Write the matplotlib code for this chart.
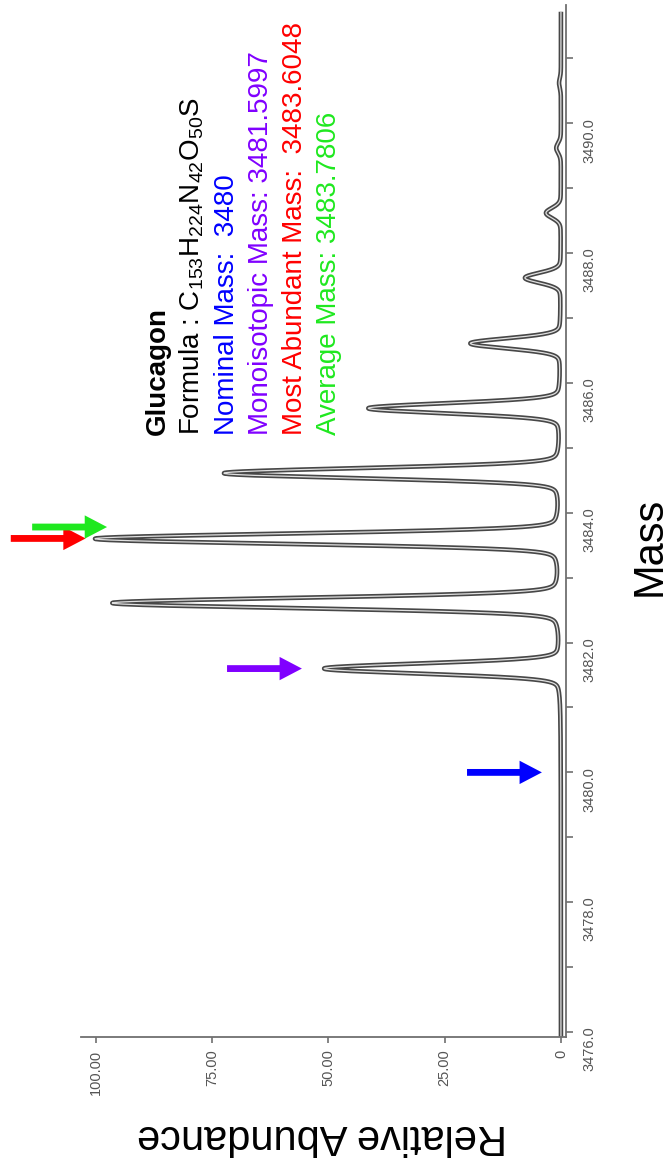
import numpy as np
import matplotlib
matplotlib.use('Agg')
from matplotlib import pyplot as plt

plt.rcParams['font.family'] = ['Liberation Sans', 'DejaVu Sans']
plt.rcParams['mathtext.fontset'] = 'custom'
plt.rcParams['mathtext.rm'] = 'Liberation Sans'
plt.rcParams['mathtext.it'] = 'Liberation Sans:italic'

# isotope peaks (centroid mass, relative abundance %)
peak_mass = [3481.60, 3482.61, 3483.60, 3484.61, 3485.61,
             3486.61, 3487.62, 3488.62, 3489.62, 3490.62]
peak_abund = [50.8, 96.3, 100.0, 72.3, 41.3, 19.4, 7.7, 3.2, 1.0, 0.4]
peak_sigma = 0.078   # gaussian part of the profile (Da)
peak_eta = 0.12      # lorentzian share of the profile

# annotated masses and their text
mark_names = ['Nominal Mass:  ', 'Monoisotopic Mass: ', 'Most Abundant Mass:  ', 'Average Mass: ']
mark_values = ['3480', '3481.5997', '3483.6048', '3483.7806']
mark_mass = [3480.0, 3481.5997, 3483.6048, 3483.7806]
mark_colors = ['#0000ff', '#8000ff', '#ff0000', '#1fe81f']
arrow_start = [20.2, 71.8, 118.3, 113.7]   # abundance where each arrow's tail sits

abund_ticks = [0, 25, 50, 75, 100]
abund_labels = ['0', '25.00', '50.00', '75.00', '100.00']
mass_major = np.arange(3476, 3491, 2)
mass_minor = np.arange(3477, 3492, 2)

# profile spectrum built from the centroids (pseudo-voigt peaks)
mass = np.linspace(3475.92, 3491.72, 4000)
prof = np.zeros_like(mass)
hwhm = peak_sigma * np.sqrt(2 * np.log(2))
for m0, a0 in zip(peak_mass, peak_abund):
    g = np.exp(-0.5 * ((mass - m0) / peak_sigma) ** 2)
    l = 1 / (1 + ((mass - m0) / hwhm) ** 2)
    prof += a0 * ((1 - peak_eta) * g + peak_eta * l)

fig = plt.figure(figsize=(6.71, 11.69), dpi=100)
W, H = 671.0, 1169.0
ax = fig.add_axes([81 / W, 1 - 1037 / H, (566 - 81) / W, (1037 - 5) / H])

ax.plot(prof, mass, color='#474747', lw=3.3, solid_capstyle='butt')
ax.plot(prof, mass, color='#e0e0e0', lw=0.9, solid_capstyle='butt')

ax.set_xlim(103.2, -1.08)
ax.set_ylim(3475.923, 3491.824)

for s in ['top', 'left']:
    ax.spines[s].set_visible(False)
for s in ['bottom', 'right']:
    ax.spines[s].set_color('#707070')
    ax.spines[s].set_linewidth(1.3)

ax.yaxis.tick_right()
ax.set_xticks(abund_ticks)
ax.set_xticklabels(abund_labels)
ax.set_yticks(mass_major)
ax.set_yticklabels(['%.1f' % v for v in mass_major])
ax.set_yticks(mass_minor, minor=True)
ax.tick_params(axis='x', labelrotation=90, labelsize=10.5, labelcolor='#555555',
               color='#707070', length=4, width=1.2, pad=5)
ax.tick_params(axis='y', which='both', labelrotation=90, labelsize=10.5,
               labelcolor='#555555', color='#707070', length=5, width=1.2, pad=7)

ax.set_xlabel('Relative Abundance', fontsize=30, rotation=180, va='center', ha='center')
ax.xaxis.set_label_coords(0.497, -0.0959)
ax.yaxis.set_label_position('right')
ax.set_ylabel('Mass', fontsize=30)
ax.yaxis.label.set_rotation(90)
ax.yaxis.label.set_rotation_mode('default')
ax.yaxis.label.set_va('center')
ax.yaxis.label.set_ha('center')
ax.yaxis.set_label_coords(1.173, 0.475)

# arrows pointing at the marked masses
for m0, a0, c in zip(mark_mass, arrow_start, mark_colors):
    ax.arrow(a0, m0, -16.1, 0, width=0.105, head_width=0.36, head_length=4.8,
             length_includes_head=True, color=c, lw=0, clip_on=False)

# text block, written bottom to top
def px(x):
    return (561 - x) / 4.65

y0 = 3476 + (1032 - 435) / 64.9
lines = [('Glucagon', 'black', 'bold'),
         (r'Formula : C$_{\mathrm{153}}$H$_{\mathrm{224}}$N$_{\mathrm{42}}$O$_{\mathrm{50}}$S', 'black', 'normal')]
lines += [(n + v, c, 'normal') for n, v, c in zip(mark_names, mark_values, mark_colors)]
for i, (t, c, w) in enumerate(lines):
    ax.text(px(165 + 34.3 * i), y0, t, color=c, fontweight=w, fontsize=20,
            rotation=90, rotation_mode='anchor', ha='left', va='baseline')

fig.savefig('out.png', dpi=100)
